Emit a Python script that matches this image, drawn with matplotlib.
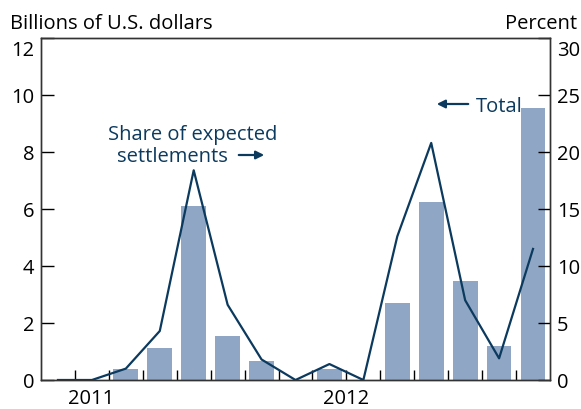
import matplotlib
matplotlib.use('Agg')
import matplotlib.pyplot as plt
import matplotlib.transforms as mtransforms
import numpy as np

plt.rcParams['font.family'] = ['Open Sans', 'DejaVu Sans']

# bars: total, billions of U.S. dollars (left axis)
total = [0, 0, 0.4, 1.12, 6.1, 1.54, 0.68, 0, 0.39, 0, 2.7, 6.26, 3.47, 1.19, 9.55]
# line: share of expected settlements, percent (right axis)
share = [0, 0, 1.0, 4.3, 18.4, 6.6, 1.8, 0, 1.4, 0, 12.6, 20.8, 7.0, 1.9, 11.5]
year_labels = ['2011', '2012']
year_pos = [0.97, 8.5]

bar_color = '#8fa7c4'
navy = '#0b3a5e'
fs = 14.5

x = np.arange(len(total))

fig = plt.figure(figsize=(5.81, 4.09), dpi=100)
ax = fig.add_axes([0.0706, 0.0709, 0.876, 0.836])
ax2 = ax.twinx()

ax.bar(x, total, width=0.73, color=bar_color, zorder=1)
ax2.plot(x, share, color=navy, lw=1.6, zorder=3)

ax.set_xlim(-0.5, len(total) - 0.5)
ax.set_ylim(0, 12)
ax2.set_ylim(0, 30)

ax.set_yticks(np.arange(0, 13, 2))
ax2.set_yticks(np.arange(0, 31, 5))
ax.tick_params(axis='y', direction='in', length=9, width=1, labelsize=fs, pad=5)
ax2.tick_params(axis='y', direction='in', length=9, width=1, labelsize=fs, pad=5)

# top labels sit a bit below the top spine, clear of the unit titles
fig.canvas.draw()
shift = mtransforms.ScaledTranslation(0, -10 / 100, fig.dpi_scale_trans)
for a in (ax, ax2):
    lbl = a.get_yticklabels()[-1]
    lbl.set_transform(lbl.get_transform() + shift)

ax.set_xticks(np.arange(0.5, len(total) - 1, 1.0))
ax.set_xticklabels([])
ax.tick_params(axis='x', direction='in', length=7, width=1)
for lbl, p in zip(year_labels, year_pos):
    t = ax.text(p, 0, lbl, ha='center', va='baseline', fontsize=fs,
                transform=ax.get_xaxis_transform())
    t.set_y(-24 / 342)

for a in (ax, ax2):
    for s in a.spines.values():
        s.set_linewidth(1.0)
        s.set_color('#333333')

fig.text(10 / 581, 1 - 29 / 409, 'Billions of U.S. dollars', fontsize=fs, ha='left', va='baseline')
fig.text(577 / 581, 1 - 29 / 409, 'Percent', fontsize=fs, ha='right', va='baseline')

fig.text(108 / 581, 1 - 140 / 409, 'Share of expected', fontsize=fs, color=navy,
         ha='left', va='baseline')
fig.text(117 / 581, 1 - 162 / 409, 'settlements', fontsize=fs, color=navy,
         ha='left', va='baseline')
ax2.annotate('', xy=(267, 409 - 155), xytext=(236, 409 - 155), xycoords='figure pixels',
             arrowprops=dict(arrowstyle='-|>', color=navy, lw=1.6, mutation_scale=12))
fig.text(476 / 581, 1 - 112 / 409, 'Total', fontsize=fs, color=navy,
         ha='left', va='baseline')
ax2.annotate('', xy=(434, 409 - 104), xytext=(471, 409 - 104), xycoords='figure pixels',
             arrowprops=dict(arrowstyle='-|>', color=navy, lw=1.6, mutation_scale=12))

fig.savefig('out.png', dpi=100)
